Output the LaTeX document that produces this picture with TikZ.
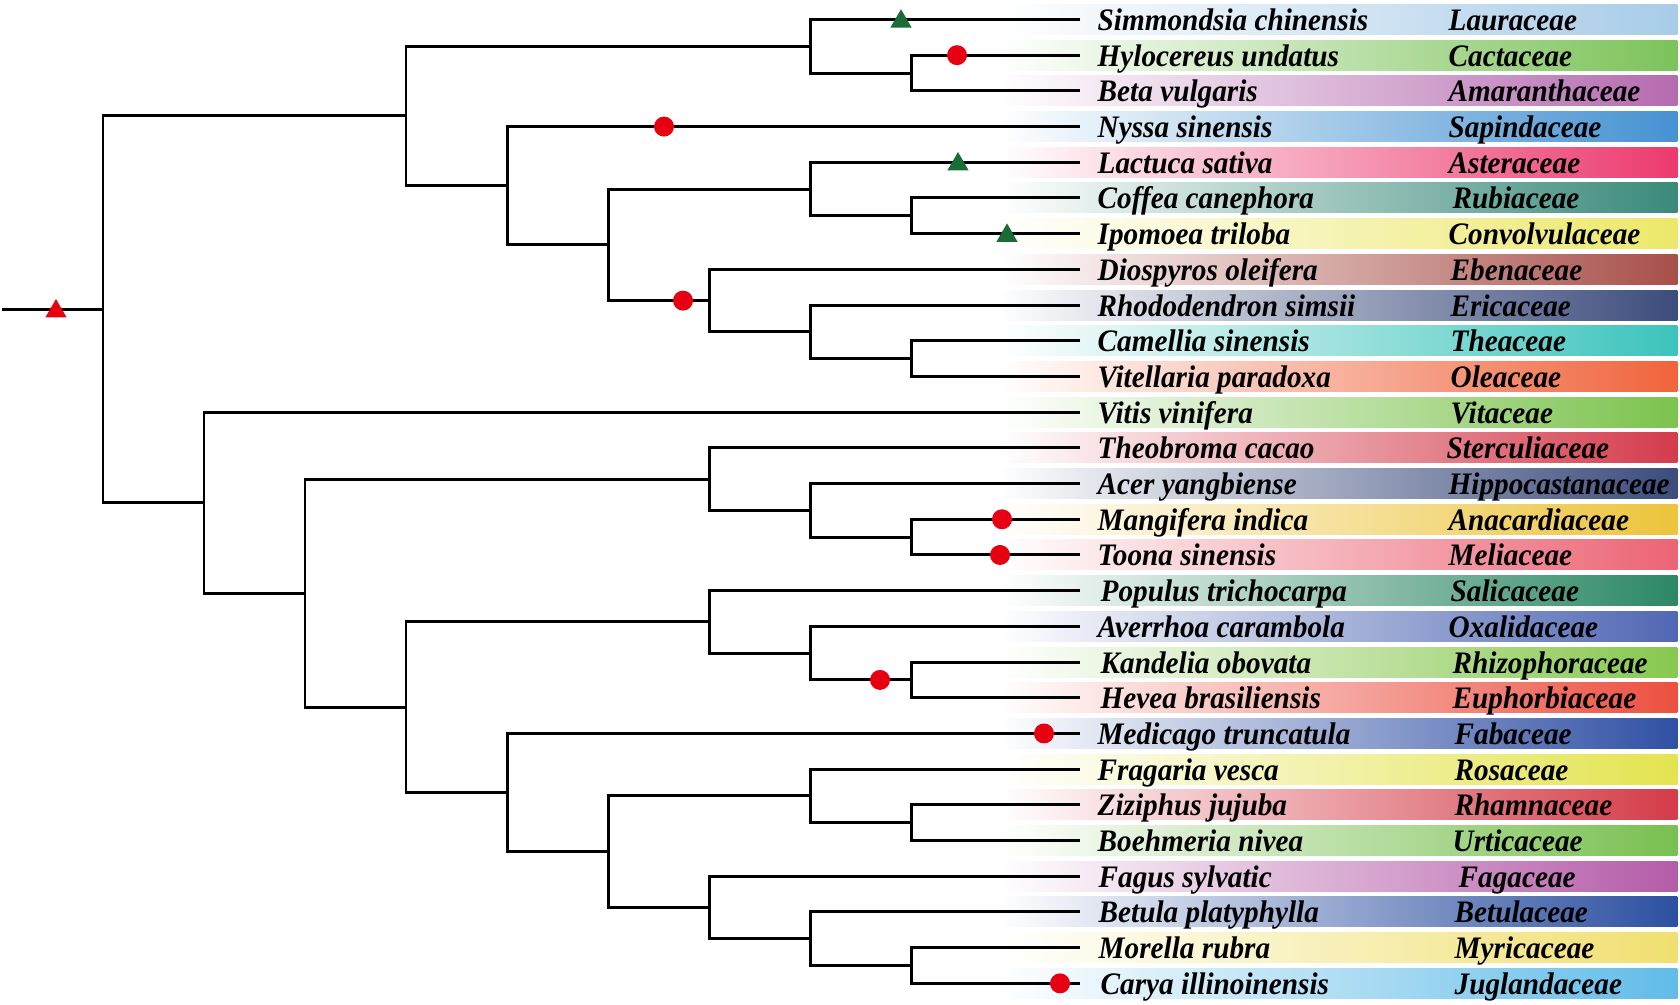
\documentclass[tikz,border=0pt]{standalone}
\usepackage{fontspec}
\usepackage{tikz}
\usetikzlibrary{positioning, shapes.geometric}

\newfontfamily\labelfont{Liberation Serif}[FakeStretch=0.935]

\definecolor{dotred}{HTML}{E60012}
\definecolor{markgreen}{HTML}{1A6B36}
\definecolor{lauraceae}{HTML}{A8CCE8}
\definecolor{cactaceae}{HTML}{7CC35A}
\definecolor{amaranthaceae}{HTML}{B56BB0}
\definecolor{sapindaceae}{HTML}{4592D2}
\definecolor{asteraceae}{HTML}{EC3A6E}
\definecolor{rubiaceae}{HTML}{3A8A7A}
\definecolor{convolvulaceae}{HTML}{ECE86A}
\definecolor{ebenaceae}{HTML}{A8504A}
\definecolor{ericaceae}{HTML}{3C4C7C}
\definecolor{theaceae}{HTML}{3CC4BC}
\definecolor{oleaceae}{HTML}{F0643C}
\definecolor{vitaceae}{HTML}{7CC34E}
\definecolor{sterculiaceae}{HTML}{D43C4C}
\definecolor{hippocastanaceae}{HTML}{3C4C7C}
\definecolor{anacardiaceae}{HTML}{ECC43C}
\definecolor{meliaceae}{HTML}{EC6474}
\definecolor{salicaceae}{HTML}{2C8864}
\definecolor{oxalidaceae}{HTML}{5068B4}
\definecolor{rhizophoraceae}{HTML}{88C850}
\definecolor{euphorbiaceae}{HTML}{EC5040}
\definecolor{fabaceae}{HTML}{3050A4}
\definecolor{rosaceae}{HTML}{E4E450}
\definecolor{rhamnaceae}{HTML}{D43C48}
\definecolor{urticaceae}{HTML}{78C050}
\definecolor{fagaceae}{HTML}{B45CA8}
\definecolor{betulaceae}{HTML}{2C50A0}
\definecolor{myricaceae}{HTML}{F0E070}
\definecolor{juglandaceae}{HTML}{60BCE8}

\begin{document}
\begin{tikzpicture}[
    x=1cm, y=-0.357cm,
    branch/.style={line width=0.85pt, black},
    species/.style={
        anchor=base west,
        inner sep=0pt,
        yshift=-0.11cm,
        font=\labelfont\bfseries\itshape\fontsize{8.9}{10}\selectfont
    },
    family/.style={species},
    band/.style={
        rectangle,
        anchor=east,
        inner sep=0pt,
        minimum width=6.78cm,
        minimum height=0.30cm,
        left color=white,
        middle color=#1!40!white,
        right color=#1
    },
    dotmark/.style={circle, fill=dotred, inner sep=0pt, minimum size=0.20cm},
    trimark/.style={
        regular polygon,
        regular polygon sides=3,
        fill=#1,
        inner sep=0pt,
        minimum size=0.245cm,
        yshift=-0.02cm
    }
]
\useasboundingbox (0,-0.546) rectangle (16.8,27.605);

% leaves and bars
\coordinate (sim) at (10.80,0);
\coordinate (hyl) at (10.80,1);
\coordinate (bet) at (10.80,2);
\coordinate (nys) at (10.80,3);
\coordinate (lac) at (10.80,4);
\coordinate (cof) at (10.80,5);
\coordinate (ipo) at (10.80,6);
\coordinate (dio) at (10.80,7);
\coordinate (rho) at (10.80,8);
\coordinate (cam) at (10.80,9);
\coordinate (vel) at (10.80,10);
\coordinate (vit) at (10.80,11);
\coordinate (the) at (10.80,12);
\coordinate (ace) at (10.80,13);
\coordinate (man) at (10.80,14);
\coordinate (too) at (10.80,15);
\coordinate (pop) at (10.80,16);
\coordinate (ave) at (10.80,17);
\coordinate (kan) at (10.80,18);
\coordinate (hev) at (10.80,19);
\coordinate (med) at (10.80,20);
\coordinate (fra) at (10.80,21);
\coordinate (ziz) at (10.80,22);
\coordinate (boe) at (10.80,23);
\coordinate (fag) at (10.80,24);
\coordinate (btl) at (10.80,25);
\coordinate (mor) at (10.80,26);
\coordinate (car) at (10.80,27);

\node[band=lauraceae] (sim-bar) at (16.78,0) {};
\node[band=cactaceae] (hyl-bar) at (16.78,1) {};
\node[band=amaranthaceae] (bet-bar) at (16.78,2) {};
\node[band=sapindaceae] (nys-bar) at (16.78,3) {};
\node[band=asteraceae] (lac-bar) at (16.78,4) {};
\node[band=rubiaceae] (cof-bar) at (16.78,5) {};
\node[band=convolvulaceae] (ipo-bar) at (16.78,6) {};
\node[band=ebenaceae] (dio-bar) at (16.78,7) {};
\node[band=ericaceae] (rho-bar) at (16.78,8) {};
\node[band=theaceae] (cam-bar) at (16.78,9) {};
\node[band=oleaceae] (vel-bar) at (16.78,10) {};
\node[band=vitaceae] (vit-bar) at (16.78,11) {};
\node[band=sterculiaceae] (the-bar) at (16.78,12) {};
\node[band=hippocastanaceae] (ace-bar) at (16.78,13) {};
\node[band=anacardiaceae] (man-bar) at (16.78,14) {};
\node[band=meliaceae] (too-bar) at (16.78,15) {};
\node[band=salicaceae] (pop-bar) at (16.78,16) {};
\node[band=oxalidaceae] (ave-bar) at (16.78,17) {};
\node[band=rhizophoraceae] (kan-bar) at (16.78,18) {};
\node[band=euphorbiaceae] (hev-bar) at (16.78,19) {};
\node[band=fabaceae] (med-bar) at (16.78,20) {};
\node[band=rosaceae] (fra-bar) at (16.78,21) {};
\node[band=rhamnaceae] (ziz-bar) at (16.78,22) {};
\node[band=urticaceae] (boe-bar) at (16.78,23) {};
\node[band=fagaceae] (fag-bar) at (16.78,24) {};
\node[band=betulaceae] (btl-bar) at (16.78,25) {};
\node[band=myricaceae] (mor-bar) at (16.78,26) {};
\node[band=juglandaceae] (car-bar) at (16.78,27) {};

% labels
\node[right=0.17cm of sim, species] (sim-sp) {Simmondsia chinensis};
\node[right=3.68cm of sim, family] (sim-fam) {Lauraceae};
\node[right=0.17cm of hyl, species] (hyl-sp) {Hylocereus undatus};
\node[right=3.68cm of hyl, family] (hyl-fam) {Cactaceae};
\node[right=0.17cm of bet, species] (bet-sp) {Beta vulgaris};
\node[right=3.68cm of bet, family] (bet-fam) {Amaranthaceae};
\node[right=0.17cm of nys, species] (nys-sp) {Nyssa sinensis};
\node[right=3.68cm of nys, family] (nys-fam) {Sapindaceae};
\node[right=0.17cm of lac, species] (lac-sp) {Lactuca sativa};
\node[right=3.68cm of lac, family] (lac-fam) {Asteraceae};
\node[right=0.17cm of cof, species] (cof-sp) {Coffea canephora};
\node[right=3.72cm of cof, family] (cof-fam) {Rubiaceae};
\node[right=0.17cm of ipo, species] (ipo-sp) {Ipomoea triloba};
\node[right=3.68cm of ipo, family] (ipo-fam) {Convolvulaceae};
\node[right=0.17cm of dio, species] (dio-sp) {Diospyros oleifera};
\node[right=3.70cm of dio, family] (dio-fam) {Ebenaceae};
\node[right=0.17cm of rho, species] (rho-sp) {Rhododendron simsii};
\node[right=3.70cm of rho, family] (rho-fam) {Ericaceae};
\node[right=0.17cm of cam, species] (cam-sp) {Camellia sinensis};
\node[right=3.70cm of cam, family] (cam-fam) {Theaceae};
\node[right=0.17cm of vel, species] (vel-sp) {Vitellaria paradoxa};
\node[right=3.70cm of vel, family] (vel-fam) {Oleaceae};
\node[right=0.17cm of vit, species] (vit-sp) {Vitis vinifera};
\node[right=3.70cm of vit, family] (vit-fam) {Vitaceae};
\node[right=0.17cm of the, species] (the-sp) {Theobroma cacao};
\node[right=3.66cm of the, family] (the-fam) {Sterculiaceae};
\node[right=0.17cm of ace, species] (ace-sp) {Acer yangbiense};
\node[right=3.68cm of ace, family] (ace-fam) {Hippocastanaceae};
\node[right=0.17cm of man, species] (man-sp) {Mangifera indica};
\node[right=3.68cm of man, family] (man-fam) {Anacardiaceae};
\node[right=0.17cm of too, species] (too-sp) {Toona sinensis};
\node[right=3.68cm of too, family] (too-fam) {Meliaceae};
\node[right=0.20cm of pop, species] (pop-sp) {Populus trichocarpa};
\node[right=3.70cm of pop, family] (pop-fam) {Salicaceae};
\node[right=0.17cm of ave, species] (ave-sp) {Averrhoa carambola};
\node[right=3.68cm of ave, family] (ave-fam) {Oxalidaceae};
\node[right=0.20cm of kan, species] (kan-sp) {Kandelia obovata};
\node[right=3.72cm of kan, family] (kan-fam) {Rhizophoraceae};
\node[right=0.20cm of hev, species] (hev-sp) {Hevea brasiliensis};
\node[right=3.72cm of hev, family] (hev-fam) {Euphorbiaceae};
\node[right=0.17cm of med, species] (med-sp) {Medicago truncatula};
\node[right=3.74cm of med, family] (med-fam) {Fabaceae};
\node[right=0.17cm of fra, species] (fra-sp) {Fragaria vesca};
\node[right=3.74cm of fra, family] (fra-fam) {Rosaceae};
\node[right=0.17cm of ziz, species] (ziz-sp) {Ziziphus jujuba};
\node[right=3.74cm of ziz, family] (ziz-fam) {Rhamnaceae};
\node[right=0.17cm of boe, species] (boe-sp) {Boehmeria nivea};
\node[right=3.72cm of boe, family] (boe-fam) {Urticaceae};
\node[right=0.18cm of fag, species] (fag-sp) {Fagus sylvatic};
\node[right=3.78cm of fag, family] (fag-fam) {Fagaceae};
\node[right=0.18cm of btl, species] (btl-sp) {Betula platyphylla};
\node[right=3.74cm of btl, family] (btl-fam) {Betulaceae};
\node[right=0.18cm of mor, species] (mor-sp) {Morella rubra};
\node[right=3.74cm of mor, family] (mor-fam) {Myricaceae};
\node[right=0.20cm of car, species] (car-sp) {Carya illinoinensis};
\node[right=3.74cm of car, family] (car-fam) {Juglandaceae};

% internal nodes
\coordinate (hb)    at (9.11,1.5);
\coordinate (shb)   at (8.10,0.75);
\coordinate (cs)    at (9.11,5.5);
\coordinate (lcs)   at (8.10,4.75);
\coordinate (cv)    at (9.11,9.5);
\coordinate (rcv)   at (8.10,8.75);
\coordinate (eric)  at (7.09,7.875);
\coordinate (aster) at (6.08,6.3125);
\coordinate (nysa)  at (5.07,4.65625);
\coordinate (upper) at (4.06,2.703125);
\coordinate (mt)    at (9.11,14.5);
\coordinate (amt)   at (8.10,13.75);
\coordinate (tamt)  at (7.09,12.875);
\coordinate (kh)    at (9.11,18.5);
\coordinate (akh)   at (8.10,17.75);
\coordinate (pakh)  at (7.09,16.875);
\coordinate (zb)    at (9.11,22.5);
\coordinate (fzb)   at (8.10,21.75);
\coordinate (mc)    at (9.11,26.5);
\coordinate (bmc)   at (8.10,25.75);
\coordinate (fbmc)  at (7.09,24.875);
\coordinate (rosa)  at (6.08,23.3125);
\coordinate (fab)   at (5.07,21.65625);
\coordinate (fabid) at (4.06,19.265625);
\coordinate (rosid) at (3.05,16.0703125);
\coordinate (lower) at (2.04,13.53515625);
\coordinate (root)  at (1.03,8.119140625);
\coordinate (base)  at (0.02,8.119140625);

% branches
\draw[branch] (hyl) -| (hb) |- (bet);
\draw[branch] (sim) -| (shb) |- (hb);
\draw[branch] (cof) -| (cs) |- (ipo);
\draw[branch] (lac) -| (lcs) |- (cs);
\draw[branch] (cam) -| (cv) |- (vel);
\draw[branch] (rho) -| (rcv) |- (cv);
\draw[branch] (dio) -| (eric) |- (rcv);
\draw[branch] (lcs) -| (aster) |- (eric);
\draw[branch] (nys) -| (nysa) |- (aster);
\draw[branch] (shb) -| (upper) |- (nysa);
\draw[branch] (man) -| (mt) |- (too);
\draw[branch] (ace) -| (amt) |- (mt);
\draw[branch] (the) -| (tamt) |- (amt);
\draw[branch] (kan) -| (kh) |- (hev);
\draw[branch] (ave) -| (akh) |- (kh);
\draw[branch] (pop) -| (pakh) |- (akh);
\draw[branch] (ziz) -| (zb) |- (boe);
\draw[branch] (fra) -| (fzb) |- (zb);
\draw[branch] (mor) -| (mc) |- (car);
\draw[branch] (btl) -| (bmc) |- (mc);
\draw[branch] (fag) -| (fbmc) |- (bmc);
\draw[branch] (fzb) -| (rosa) |- (fbmc);
\draw[branch] (med) -| (fab) |- (rosa);
\draw[branch] (pakh) -| (fabid) |- (fab);
\draw[branch] (tamt) -| (rosid) |- (fabid);
\draw[branch] (vit) -| (lower) |- (rosid);
\draw[branch] (upper) -| (root) |- (lower);
\draw[branch] (base) -- (root);

% markers
\node[trimark=dotred] (root-tri) at (0.56,8.119) {};
\node[trimark=markgreen] (sim-tri) at (9.01,0) {};
\node[trimark=markgreen] (lac-tri) at (9.58,4) {};
\node[trimark=markgreen] (ipo-tri) at (10.07,6) {};
\node[dotmark] (hyl-dot) at (9.57,1) {};
\node[dotmark] (nys-dot) at (6.64,3) {};
\node[dotmark] (eric-dot) at (6.83,7.875) {};
\node[dotmark] (man-dot) at (10.02,14) {};
\node[dotmark] (too-dot) at (10.00,15) {};
\node[dotmark] (kh-dot) at (8.80,18.5) {};
\node[dotmark] (med-dot) at (10.44,20) {};
\node[dotmark] (car-dot) at (10.60,27) {};

\end{tikzpicture}
\end{document}
